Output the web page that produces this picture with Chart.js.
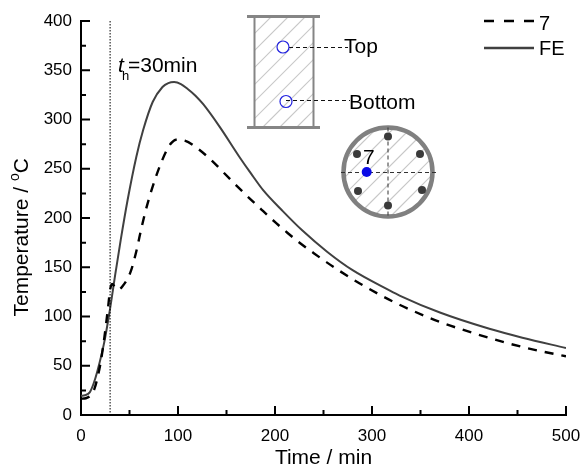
<!DOCTYPE html>
<html>
<head>
<meta charset="utf-8">
<script src="https://cdn.jsdelivr.net/npm/chart.js@4"></script>
<style>
  html, body { margin: 0; padding: 0; background: #fff; }
  #wrap { position: relative; width: 581px; height: 470px; }
</style>
</head>
<body>
<div id="wrap"><canvas id="chart" width="581" height="470"></canvas></div>
<script>
// values: [min, degC]
const timeFE = [0, 4, 9, 13, 17, 24, 29, 36, 41, 48, 57, 64, 74, 84, 90, 96, 103, 110, 118, 126, 143, 163, 175, 188, 208, 228, 254, 280, 318, 329, 370, 421, 455, 500];
const tempFE = [19.5, 20, 23, 32, 45, 74, 102, 147, 178, 218, 262, 289, 318, 333, 337, 338, 336, 331, 324.2, 315.5, 292.5, 262.5, 245.5, 228, 207, 187.5, 165.5, 147, 126.5, 121, 104, 87.5, 78.5, 68];
const time7 = [0, 5, 10, 14, 20, 24, 28, 30, 32, 35, 38, 43, 51, 57, 61, 66, 72, 78, 83, 89, 93, 98, 107, 120, 134, 148, 160, 172, 186, 201, 213, 226, 240, 253, 267, 281, 295, 311, 326, 342, 357, 374, 389, 406, 422, 439, 457, 476, 500];
const temp7 = [16.5, 17, 20, 27, 52, 78, 110, 127, 133, 130, 127, 131, 145, 166, 184, 205, 226, 244, 257, 270, 276, 279.5, 278.6, 270.8, 259, 245.2, 233.2, 221.6, 208.6, 195, 184.8, 174.4, 164.3, 155.2, 146, 137.3, 129.3, 120.5, 113, 105.8, 99.5, 93, 88, 82.7, 77.9, 73.1, 68.6, 64.4, 59.6];

const xMajor = [0, 100, 200, 300, 400, 500];
const xMinor = [50, 150, 250, 350, 450];
const yMajor = [0, 50, 100, 150, 200, 250, 300, 350, 400];
const yMinor = [25, 75, 125, 175, 225, 275, 325, 375];

const FONT = '"Liberation Sans", Arial, sans-serif';
const INK = '#000';
const LINE_FE = '#404040';

function hatch(ctx, x0, y0, x1, y1, clipFn) {
  ctx.save();
  ctx.beginPath();
  clipFn();
  ctx.clip();
  ctx.strokeStyle = '#c8c8c8';
  ctx.lineWidth = 1.2;
  ctx.beginPath();
  for (let c = x0 - (y1 - y0); c < x1; c += 17) {
    ctx.moveTo(c, y1);
    ctx.lineTo(c + (y1 - y0), y0);
  }
  ctx.stroke();
  ctx.restore();
}

function drawColumn(ctx) {
  hatch(ctx, 254, 17, 314, 127, () => ctx.rect(254, 18, 60, 109));
  ctx.strokeStyle = '#858585';
  ctx.lineWidth = 2;
  ctx.beginPath();
  ctx.moveTo(254.5, 17); ctx.lineTo(254.5, 127);
  ctx.moveTo(313.5, 17); ctx.lineTo(313.5, 127);
  ctx.stroke();
  ctx.lineWidth = 3;
  ctx.beginPath();
  ctx.moveTo(247, 16.5); ctx.lineTo(320, 16.5);
  ctx.moveTo(247, 127.5); ctx.lineTo(320, 127.5);
  ctx.stroke();

  ctx.setLineDash([4, 3]);
  ctx.strokeStyle = '#111';
  ctx.lineWidth = 1;
  ctx.beginPath();
  ctx.moveTo(289, 47.5); ctx.lineTo(348, 47.5);
  ctx.moveTo(286, 100.5); ctx.lineTo(350, 100.5);
  ctx.stroke();
  ctx.setLineDash([]);

  ctx.strokeStyle = '#2222e0';
  ctx.lineWidth = 1.2;
  ctx.beginPath(); ctx.arc(283, 47, 6, 0, Math.PI * 2); ctx.stroke();
  ctx.beginPath(); ctx.arc(286, 101.5, 6, 0, Math.PI * 2); ctx.stroke();

  ctx.fillStyle = INK;
  ctx.font = '21px ' + FONT;
  ctx.textBaseline = 'alphabetic';
  ctx.textAlign = 'left';
  ctx.fillText('Top', 344, 53);
  ctx.fillText('Bottom', 349, 109);
}

function drawSection(ctx) {
  const cx = 388, cy = 172, r = 44.5;
  hatch(ctx, cx - r, cy - r, cx + r, cy + r, () => ctx.arc(cx, cy, r, 0, Math.PI * 2));
  ctx.strokeStyle = '#808080';
  ctx.lineWidth = 4.5;
  ctx.beginPath(); ctx.arc(cx, cy, r, 0, Math.PI * 2); ctx.stroke();

  ctx.setLineDash([4, 3]);
  ctx.lineWidth = 1;
  ctx.strokeStyle = '#333';
  ctx.beginPath();
  ctx.moveTo(cx, cy - r); ctx.lineTo(cx, cy + r);
  ctx.moveTo(cx - 47, cy + 0.5); ctx.lineTo(cx + 48, cy + 0.5);
  ctx.stroke();
  ctx.setLineDash([]);

  ctx.fillStyle = '#3a3a3a';
  [[388, 136.5], [357, 154], [420, 154], [358, 191], [422, 190], [388, 205.5]].forEach(([x, y]) => {
    ctx.beginPath(); ctx.arc(x, y, 4, 0, Math.PI * 2); ctx.fill();
  });
  ctx.fillStyle = '#0a0ae6';
  ctx.beginPath(); ctx.arc(366.7, 172, 5, 0, Math.PI * 2); ctx.fill();

  ctx.fillStyle = INK;
  ctx.font = '21px ' + FONT;
  ctx.textAlign = 'left';
  ctx.fillText('7', 363, 164);
}

const decorations = {
  id: 'decorations',
  afterDraw(chart) {
    const { ctx, scales: { x, y } } = chart;
    ctx.save();

    // ticks point inwards, minor ones are shorter
    ctx.strokeStyle = INK;
    ctx.lineWidth = 2;
    ctx.beginPath();
    xMajor.forEach(v => { const p = x.getPixelForValue(v); ctx.moveTo(p, y.bottom); ctx.lineTo(p, y.bottom - 9); });
    xMinor.forEach(v => { const p = x.getPixelForValue(v); ctx.moveTo(p, y.bottom); ctx.lineTo(p, y.bottom - 5); });
    yMajor.forEach(v => { const p = y.getPixelForValue(v); ctx.moveTo(x.left, p); ctx.lineTo(x.left + 9, p); });
    yMinor.forEach(v => { const p = y.getPixelForValue(v); ctx.moveTo(x.left, p); ctx.lineTo(x.left + 5, p); });
    ctx.stroke();

    // heating time marker
    const tx = x.getPixelForValue(30);
    ctx.lineWidth = 1;
    ctx.setLineDash([1.5, 1.5]);
    ctx.beginPath();
    ctx.moveTo(tx, y.top);
    ctx.lineTo(tx, y.bottom);
    ctx.stroke();
    ctx.setLineDash([]);

    ctx.fillStyle = INK;
    ctx.textBaseline = 'alphabetic';
    ctx.textAlign = 'left';
    ctx.font = 'italic 21px ' + FONT;
    ctx.fillText('t', 118, 72);
    ctx.font = '13px ' + FONT;
    ctx.fillText('h', 122, 80);
    ctx.font = '21px ' + FONT;
    ctx.fillText('=30min', 128, 72);

    // y title needs a raised "o"
    ctx.save();
    ctx.translate(28, 316.5);
    ctx.rotate(-Math.PI / 2);
    ctx.font = '21px ' + FONT;
    const label = 'Temperature / ';
    ctx.fillText(label, 0, 0);
    let w = ctx.measureText(label).width;
    ctx.font = '14px ' + FONT;
    ctx.fillText('o', w, -9);
    w += ctx.measureText('o').width;
    ctx.font = '21px ' + FONT;
    ctx.fillText('C', w, 0);
    ctx.restore();

    drawColumn(ctx);
    drawSection(ctx);

    // legend
    ctx.lineWidth = 2.4;
    ctx.strokeStyle = INK;
    ctx.setLineDash([10, 10]);
    ctx.beginPath(); ctx.moveTo(484, 21); ctx.lineTo(534, 21); ctx.stroke();
    ctx.setLineDash([]);
    ctx.strokeStyle = LINE_FE;
    ctx.beginPath(); ctx.moveTo(484, 48); ctx.lineTo(534, 48); ctx.stroke();
    ctx.fillStyle = INK;
    ctx.font = '20px ' + FONT;
    ctx.fillText('7', 539, 30);
    ctx.fillText('FE', 539, 55);

    ctx.restore();
  }
};

new Chart(document.getElementById('chart'), {
  type: 'line',
  data: {
    datasets: [
      {
        label: '7',
        data: time7.map((t, i) => ({ x: t, y: temp7[i] })),
        borderColor: INK,
        borderWidth: 2.4,
        borderDash: [9, 8],
        pointRadius: 0,
        cubicInterpolationMode: 'monotone'
      },
      {
        label: 'FE',
        data: timeFE.map((t, i) => ({ x: t, y: tempFE[i] })),
        borderColor: LINE_FE,
        borderWidth: 2,
        pointRadius: 0,
        cubicInterpolationMode: 'monotone'
      }
    ]
  },
  options: {
    responsive: false,
    animation: false,
    layout: { padding: { left: 0, right: 15, top: 21, bottom: 0 } },
    plugins: { legend: { display: false }, tooltip: { enabled: false } },
    scales: {
      x: {
        type: 'linear',
        min: 0,
        max: 500,
        afterFit(scale) { scale.height = 55; scale.paddingRight = 0; scale.paddingLeft = 0; },
        border: { color: INK, width: 2 },
        grid: { display: false },
        ticks: { stepSize: 100, maxRotation: 0, color: INK, padding: 3, font: { family: FONT, size: 17 } },
        title: { display: true, text: 'Time / min', color: INK, padding: { top: 0, bottom: -1 }, font: { family: FONT, size: 21 } }
      },
      y: {
        min: 0,
        max: 400,
        afterFit(scale) { scale.width = 81; },
        border: { color: INK, width: 2 },
        grid: { display: false },
        ticks: { stepSize: 50, color: INK, padding: 1, font: { family: FONT, size: 17 } }
      }
    }
  },
  plugins: [decorations]
});
</script>
</body>
</html>
